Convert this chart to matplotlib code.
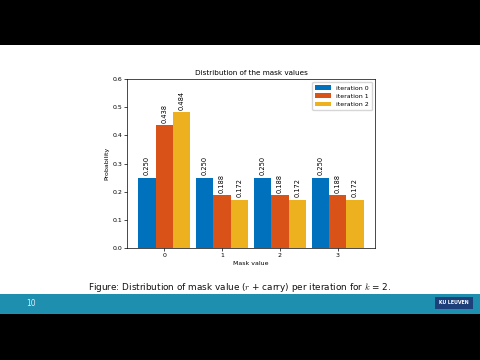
import matplotlib
matplotlib.use('Agg')
import matplotlib.pyplot as plt
from matplotlib.patches import Rectangle
import numpy as np

# data
mask_values = ['0', '1', '2', '3']
iter0 = [0.250, 0.250, 0.250, 0.250]
iter1 = [0.438, 0.188, 0.188, 0.188]
iter2 = [0.484, 0.172, 0.172, 0.172]
series_names = ['iteration 0', 'iteration 1', 'iteration 2']
colors = ['#0072BD', '#D95319', '#EDB120']

plt.rcParams['mathtext.fontset'] = 'cm'

fig = plt.figure(figsize=(4.8, 3.6), dpi=100)
fig.patch.set_facecolor('white')

# slide frame: black bars, teal footer
fig.patches.append(Rectangle((0, 1 - 45 / 360), 1, 45 / 360, transform=fig.transFigure,
                             facecolor='black', edgecolor='none', zorder=-10))
fig.patches.append(Rectangle((0, 0), 1, 46 / 360, transform=fig.transFigure,
                             facecolor='black', edgecolor='none', zorder=-10))
fig.patches.append(Rectangle((0, 46 / 360), 1, 20 / 360, transform=fig.transFigure,
                             facecolor='#1F8FAF', edgecolor='none', zorder=-9))
fig.patches.append(Rectangle((435 / 480, 51 / 360), 38 / 480, 12 / 360, transform=fig.transFigure,
                             facecolor='#1D3F7A', edgecolor='none', zorder=-8))
fig.text(454 / 480, 57 / 360, 'KU LEUVEN', color='white', fontsize=3.4, fontweight='bold',
         ha='center', va='center')
fig.text(31 / 480, 56 / 360, '10', color='#DDEEF5', fontsize=5.5, ha='center', va='center')

# caption
fig.text(240 / 480, 73 / 360, r'Figure: Distribution of mask value ($r$ + carry) per iteration for $k$ = 2.',
         fontsize=6.4, ha='center', va='center', color='#111111')

# chart
ax = fig.add_axes([127 / 480, 112 / 360, 248 / 480, 169 / 360])
x = np.arange(len(mask_values))
w = 0.3
for i, (vals, name) in enumerate(zip([iter0, iter1, iter2], series_names)):
    bars = ax.bar(x + (i - 1) * w, vals, w, color=colors[i], label=name)
    ax.bar_label(bars, fmt='%.3f', rotation=90, fontsize=4.8, padding=1.5)

ax.set_ylim(0, 0.6)
ax.set_xticks(x)
ax.set_xticklabels(mask_values)
ax.set_title('Distribution of the mask values', fontsize=5.2, pad=3)
ax.set_xlabel('Mask value', fontsize=4.5, labelpad=2)
ax.set_ylabel('Probability', fontsize=4.5, labelpad=2)
ax.tick_params(labelsize=4.5, length=2, width=0.5, pad=1.5)
for s in ax.spines.values():
    s.set_linewidth(0.5)
ax.legend(loc='upper right', fontsize=4.5, frameon=True, handlelength=2.5,
          borderpad=0.5, labelspacing=0.45, framealpha=0.8, fancybox=True)

fig.savefig('out.png', dpi=100)
